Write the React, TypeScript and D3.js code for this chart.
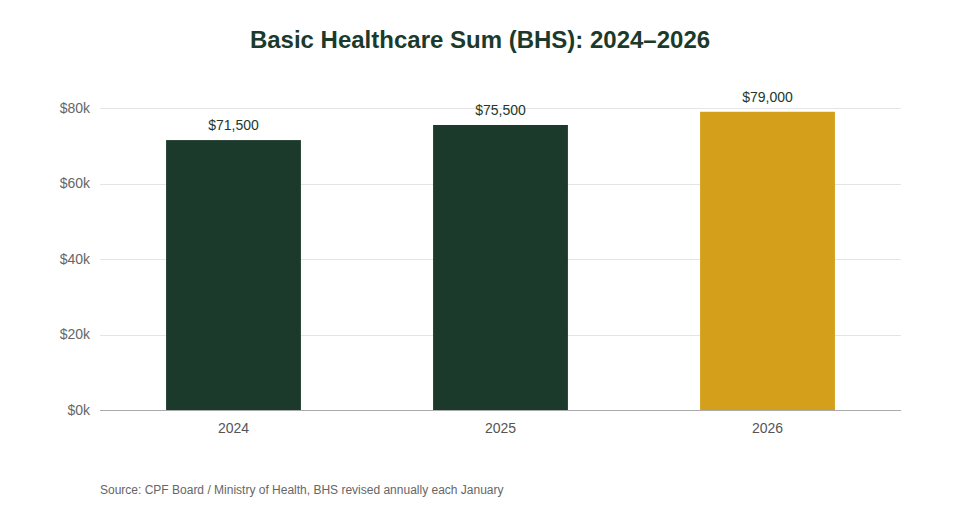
import React, { useEffect, useRef } from 'react';
import * as d3 from 'd3';

const years = ['2024', '2025', '2026'];
const bhsValues = [71500, 75500, 79000];
const yTicks = [0, 20000, 40000, 60000, 80000];

const W = 960;
const H = 520;
const margin = { top: 108, right: 59, bottom: 110, left: 100 };

export default function App() {
  const svgRef = useRef<SVGSVGElement>(null);

  useEffect(() => {
    document.body.style.margin = '0';
    if (!svgRef.current) return;
    const svg = d3.select(svgRef.current);
    svg.selectAll('*').remove();

    const font = '"Liberation Sans", Arial, sans-serif';

    const x = d3.scaleBand<string>()
      .domain(years)
      .range([margin.left, W - margin.right])
      .paddingInner(0.495)
      .paddingOuter(0.2475);

    const y = d3.scaleLinear()
      .domain([0, 80000])
      .range([H - margin.bottom, margin.top]);

    // title
    svg.append('text')
      .attr('x', W / 2)
      .attr('y', 48)
      .attr('text-anchor', 'middle')
      .attr('font-family', font)
      .attr('font-size', 24)
      .attr('font-weight', 'bold')
      .attr('fill', '#1c3a2b')
      .text('Basic Healthcare Sum (BHS): 2024–2026');

    // gridlines
    svg.append('g')
      .selectAll('line')
      .data(yTicks.filter(t => t > 0))
      .enter()
      .append('line')
      .attr('x1', margin.left)
      .attr('x2', W - margin.right)
      .attr('y1', d => Math.round(y(d)) + 0.5)
      .attr('y2', d => Math.round(y(d)) + 0.5)
      .attr('stroke', '#e5e5e5')
      .attr('stroke-width', 1);

    // y tick labels
    svg.append('g')
      .selectAll('text')
      .data(yTicks)
      .enter()
      .append('text')
      .attr('x', 90)
      .attr('y', d => y(d))
      .attr('dy', '0.35em')
      .attr('text-anchor', 'end')
      .attr('font-family', font)
      .attr('font-size', 14)
      .attr('fill', '#666')
      .text(d => `$${d / 1000}k`);

    // bars
    svg.append('g')
      .selectAll('rect')
      .data(years)
      .enter()
      .append('rect')
      .attr('x', d => x(d)!)
      .attr('width', x.bandwidth())
      .attr('y', (d, i) => y(bhsValues[i]))
      .attr('height', (d, i) => y(0) - y(bhsValues[i]))
      .attr('fill', (d, i) => (i === years.length - 1 ? '#d4a01c' : '#1b3a2b'));

    // value labels
    svg.append('g')
      .selectAll('text')
      .data(years)
      .enter()
      .append('text')
      .attr('x', d => x(d)! + x.bandwidth() / 2)
      .attr('y', (d, i) => y(bhsValues[i]) - 10)
      .attr('text-anchor', 'middle')
      .attr('font-family', font)
      .attr('font-size', 14)
      .attr('fill', '#22382c')
      .text((d, i) => `$${d3.format(',')(bhsValues[i])}`);

    // baseline
    svg.append('line')
      .attr('x1', margin.left)
      .attr('x2', W - margin.right)
      .attr('y1', Math.round(y(0)) + 0.5)
      .attr('y2', Math.round(y(0)) + 0.5)
      .attr('stroke', '#aaa')
      .attr('stroke-width', 1);

    // x labels
    svg.append('g')
      .selectAll('text')
      .data(years)
      .enter()
      .append('text')
      .attr('x', d => x(d)! + x.bandwidth() / 2)
      .attr('y', 433)
      .attr('text-anchor', 'middle')
      .attr('font-family', font)
      .attr('font-size', 14)
      .attr('fill', '#555')
      .text(d => d);

    // source
    svg.append('text')
      .attr('x', 100)
      .attr('y', 494)
      .attr('font-family', font)
      .attr('font-size', 12)
      .attr('fill', '#666')
      .text('Source: CPF Board / Ministry of Health, BHS revised annually each January');
  }, []);

  return <svg ref={svgRef} width={W} height={H} style={{ display: 'block', background: '#fff' }} />;
}
